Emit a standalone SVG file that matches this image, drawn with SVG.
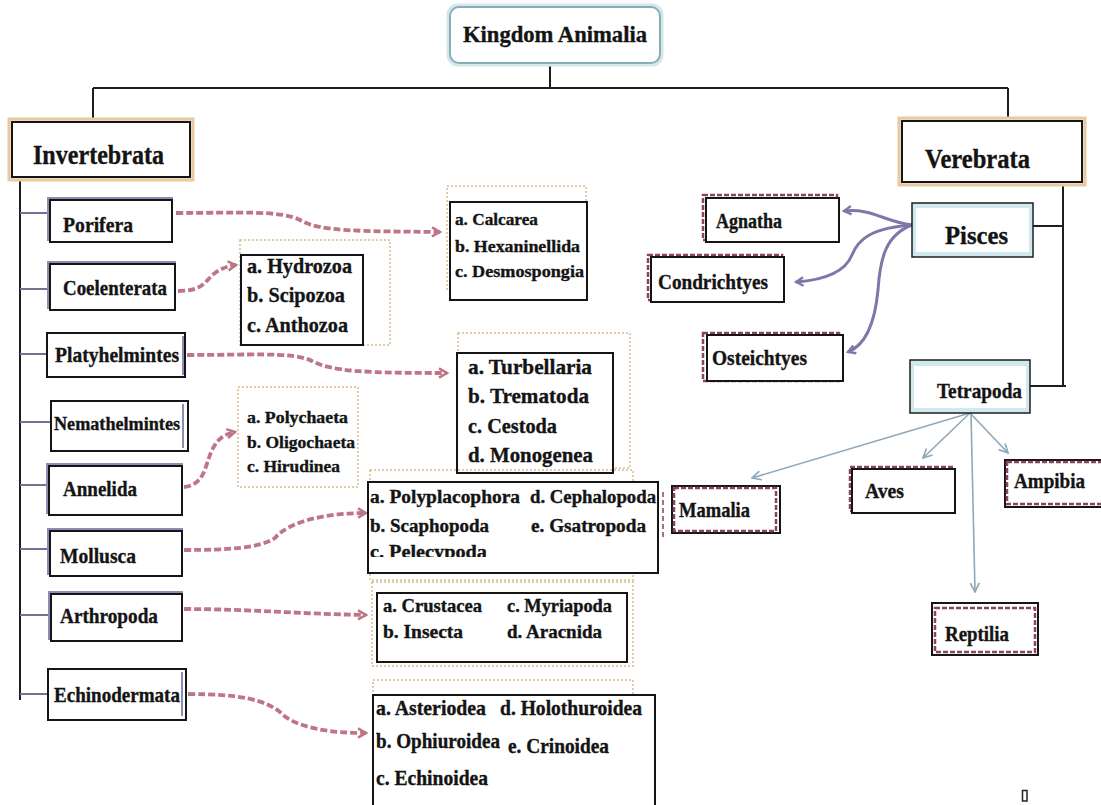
<svg xmlns="http://www.w3.org/2000/svg" width="1101" height="805" viewBox="0 0 1101 805">
<defs>
<style>
text{font-family:"Liberation Serif","DejaVu Serif",serif;font-weight:bold;fill:#141414;stroke:#141414;stroke-width:0.35}
.tree{stroke:#1e1e1e;stroke-width:2;fill:none}
.branch{stroke:#6f7590;stroke-width:2;fill:none}
.box{fill:#fff;stroke:#151515;stroke-width:2}
.shade{fill:none;stroke:#8e8cb0;stroke-width:2}
.glow{fill:#f6e6d2;stroke:#e8c9a2;stroke-width:3}
.dot{fill:none;stroke:#d9bb8c;stroke-width:1.5;stroke-dasharray:2 2}
.red{fill:none;stroke:#8a4656;stroke-width:2.5;stroke-dasharray:5 2}
.pink{fill:none;stroke:#b8687b;stroke-width:3.8;stroke-dasharray:7 3;opacity:.9}
.purple{fill:none;stroke:#7e78a8;stroke-width:3}
.blue{fill:none;stroke:#8ea8b9;stroke-width:1.6}
.teal{fill:#cfe9ef;stroke:#1e1e1e;stroke-width:1.5}
</style>
<marker id="mPink" viewBox="0 0 10 10" refX="8" refY="5" markerWidth="3" markerHeight="3" orient="auto" markerUnits="strokeWidth">
<path d="M1,1 L8,5 L1,9" fill="none" stroke="#b8687b" stroke-width="2.2"/>
</marker>
<marker id="mPurple" viewBox="0 0 10 10" refX="8" refY="5" markerWidth="3.5" markerHeight="3.5" orient="auto" markerUnits="strokeWidth">
<path d="M1,1 L8,5 L1,9" fill="none" stroke="#7e78a8" stroke-width="2.2"/>
</marker>
<marker id="mBlue" viewBox="0 0 10 10" refX="9" refY="5" markerWidth="7" markerHeight="7" orient="auto" markerUnits="strokeWidth">
<path d="M1,1 L9,5 L1,9" fill="none" stroke="#8ea8b9" stroke-width="1.5"/>
</marker>
<clipPath id="clipPel"><rect x="365" y="530" width="200" height="27"/></clipPath>
</defs>
<rect width="1101" height="805" fill="#fff"/>

<g id="connectors">
<path class="tree" d="M550,63 L550,88 M93,88 L1008,88 M93,88 L93,122 M1008,88 L1008,121"/>
<path class="tree" d="M20,177 L20,700"/>
<path class="branch" d="M20,213 L50,213 M20,289 L50,289 M20,354 L47,354 M20,422 L51,422 M20,485 L49,485 M20,549 L50,549 M20,615 L50,615 M20,694 L48,694"/>
<path class="tree" d="M1063,182 L1063,387 M1033,226 L1063,226 M1030,386 L1066,386"/>
<path class="pink" marker-end="url(#mPink)" d="M176,213 C240,213 280,210 300,220 C320,232 360,231 440,232"/>
<path class="pink" marker-end="url(#mPink)" d="M178,291 C205,291 205,280 215,273 C222,268 228,266 236,265"/>
<path class="pink" marker-end="url(#mPink)" d="M187,355 C250,355 290,352 310,360 C330,372 370,373 447,373"/>
<path class="pink" marker-end="url(#mPink)" d="M184,487 C205,485 205,465 212,450 C218,438 225,434 235,432"/>
<path class="pink" marker-end="url(#mPink)" d="M184,550 C230,550 260,548 275,538 C290,520 330,513 366,513"/>
<path class="pink" marker-end="url(#mPink)" d="M184,609 C250,609 300,614 366,615"/>
<path class="pink" marker-end="url(#mPink)" d="M188,694 C240,694 265,700 280,712 C295,728 330,733 366,733"/>
<path class="purple" marker-end="url(#mPurple)" d="M912,225 C885,222 872,208 844,211"/>
<path class="purple" marker-end="url(#mPurple)" d="M912,225 C870,228 858,240 852,255 C845,272 825,280 796,282"/>
<path class="purple" marker-end="url(#mPurple)" d="M912,225 C885,235 880,260 878,290 C875,322 866,345 848,352"/>
<path class="blue" marker-end="url(#mBlue)" d="M970,413 L752,478"/>
<path class="blue" marker-end="url(#mBlue)" d="M970,413 L923,458"/>
<path class="blue" marker-end="url(#mBlue)" d="M970,413 L1008,453"/>
<path class="blue" marker-end="url(#mBlue)" d="M971,413 L975,592"/>
</g>

<g id="kingdom">
<rect x="448" y="5" width="214" height="60" rx="10" fill="#eef6f8" stroke="#d4e8ec" stroke-width="3"/>
<rect x="450" y="7" width="210" height="56" rx="9" fill="#fff" stroke="#86aeb6" stroke-width="2"/>
<text x="463" y="42" font-size="23" textLength="184" lengthAdjust="spacingAndGlyphs">Kingdom Animalia</text>
</g>

<g id="invertebrata">
<rect class="glow" x="9" y="119" width="184" height="61"/>
<rect class="box" x="12" y="122" width="178" height="55"/>
<text x="33" y="164" font-size="27" textLength="131" lengthAdjust="spacingAndGlyphs">Invertebrata</text>
</g>

<g id="verebrata">
<rect class="glow" x="899" y="118" width="186" height="67"/>
<rect class="box" x="902" y="121" width="180" height="61"/>
<text x="925" y="168" font-size="27" textLength="105" lengthAdjust="spacingAndGlyphs">Verebrata</text>
</g>

<g id="porifera">
<rect class="shade" x="48" y="198" width="124" height="42"/>
<rect class="box" x="50" y="200" width="122" height="42"/>
<text x="63" y="232" font-size="22" textLength="70" lengthAdjust="spacingAndGlyphs">Porifera</text>
</g>
<g id="coelenterata">
<rect class="shade" x="48" y="262" width="127" height="46"/>
<rect class="box" x="50" y="264" width="125" height="46"/>
<text x="63" y="295" font-size="21" textLength="104" lengthAdjust="spacingAndGlyphs">Coelenterata</text>
</g>
<g id="platyhelmintes">
<rect class="shade" x="47" y="333" width="136" height="44"/>
<rect class="box" x="47" y="333" width="138" height="44"/>
<line x1="183" y1="336" x2="183" y2="375" stroke="#8e8cb0" stroke-width="2"/>
<text x="55" y="362" font-size="21" textLength="124" lengthAdjust="spacingAndGlyphs">Platyhelmintes</text>
</g>
<g id="nemathelmintes">
<rect class="shade" x="51" y="401" width="133" height="44"/>
<rect class="box" x="51" y="401" width="137" height="50"/>
<line x1="183" y1="404" x2="183" y2="448" stroke="#8e8cb0" stroke-width="2"/>
<text x="54" y="430" font-size="19" textLength="126" lengthAdjust="spacingAndGlyphs">Nemathelmintes</text>
</g>
<g id="annelida">
<rect class="shade" x="47" y="464" width="135" height="49"/>
<rect class="box" x="49" y="466" width="133" height="49"/>
<text x="63" y="496" font-size="22" textLength="74" lengthAdjust="spacingAndGlyphs">Annelida</text>
</g>
<g id="mollusca">
<rect class="shade" x="48" y="529" width="134" height="45"/>
<rect class="box" x="50" y="531" width="132" height="45"/>
<text x="60" y="563" font-size="22" textLength="76" lengthAdjust="spacingAndGlyphs">Mollusca</text>
</g>
<g id="arthropoda">
<rect class="shade" x="49" y="592" width="133" height="47"/>
<rect class="box" x="51" y="594" width="131" height="47"/>
<text x="60" y="623" font-size="22" textLength="98" lengthAdjust="spacingAndGlyphs">Arthropoda</text>
</g>
<g id="echinodermata">
<rect class="shade" x="48" y="669" width="134" height="44"/>
<rect class="box" x="48" y="669" width="138" height="51"/>
<line x1="182" y1="672" x2="182" y2="716" stroke="#8e8cb0" stroke-width="2"/>
<text x="54" y="702" font-size="21" textLength="126" lengthAdjust="spacingAndGlyphs">Echinodermata</text>
</g>

<g id="porifera-classes">
<rect class="dot" x="447" y="186" width="139" height="103"/>
<rect class="box" x="450" y="202" width="137" height="98" fill="none"/>
<text x="455" y="225" font-size="17.5" textLength="83" lengthAdjust="spacingAndGlyphs">a. Calcarea</text>
<text x="455" y="252" font-size="17.5" textLength="125" lengthAdjust="spacingAndGlyphs">b. Hexaninellida</text>
<text x="455" y="277" font-size="17.5" textLength="129" lengthAdjust="spacingAndGlyphs">c. Desmospongia</text>
</g>
<g id="coelenterata-classes">
<rect class="dot" x="240" y="240" width="150" height="105"/>
<rect class="box" x="241" y="255" width="122" height="90" fill="none"/>
<text x="247" y="273" font-size="22" textLength="105" lengthAdjust="spacingAndGlyphs">a. Hydrozoa</text>
<text x="247" y="302" font-size="22" textLength="98" lengthAdjust="spacingAndGlyphs">b. Scipozoa</text>
<text x="247" y="332" font-size="22" textLength="101" lengthAdjust="spacingAndGlyphs">c. Anthozoa</text>
</g>
<g id="platyhelmintes-classes">
<rect class="dot" x="458" y="333" width="172" height="135"/>
<rect class="box" x="457" y="353" width="156" height="120" fill="none"/>
<text x="468" y="374" font-size="22" textLength="124" lengthAdjust="spacingAndGlyphs">a. Turbellaria</text>
<text x="468" y="403" font-size="22" textLength="121" lengthAdjust="spacingAndGlyphs">b. Trematoda</text>
<text x="468" y="433" font-size="22" textLength="89" lengthAdjust="spacingAndGlyphs">c. Cestoda</text>
<text x="468" y="462" font-size="22" textLength="125" lengthAdjust="spacingAndGlyphs">d. Monogenea</text>
</g>
<g id="annelida-classes">
<rect class="dot" x="238" y="387" width="120" height="100"/>
<text x="247" y="423" font-size="17.5" textLength="101" lengthAdjust="spacingAndGlyphs">a. Polychaeta</text>
<text x="247" y="448" font-size="17.5" textLength="108" lengthAdjust="spacingAndGlyphs">b. Oligochaeta</text>
<text x="247" y="472" font-size="17.5" textLength="93" lengthAdjust="spacingAndGlyphs">c. Hirudinea</text>
</g>
<g id="mollusca-classes">
<rect class="dot" x="370" y="470" width="263" height="110"/>
<rect class="box" x="368" y="482" width="290" height="91" fill="none"/>
<text x="370" y="503" font-size="18.5" textLength="150" lengthAdjust="spacingAndGlyphs">a. Polyplacophora</text>
<text x="530" y="503" font-size="18.5" textLength="126" lengthAdjust="spacingAndGlyphs">d. Cephalopoda</text>
<text x="370" y="532" font-size="18.5" textLength="119" lengthAdjust="spacingAndGlyphs">b. Scaphopoda</text>
<text x="531" y="532" font-size="18.5" textLength="115" lengthAdjust="spacingAndGlyphs">e. Gsatropoda</text>
<text x="370" y="558" font-size="18.5" textLength="117" lengthAdjust="spacingAndGlyphs" clip-path="url(#clipPel)">c.  Pelecypoda</text>
</g>
<g id="arthropoda-classes">
<rect class="dot" x="372" y="582" width="261" height="84"/>
<rect class="box" x="377" y="593" width="250" height="69" fill="none"/>
<text x="383" y="612" font-size="19" textLength="99" lengthAdjust="spacingAndGlyphs">a. Crustacea</text>
<text x="507" y="612" font-size="19" textLength="105" lengthAdjust="spacingAndGlyphs">c. Myriapoda</text>
<text x="383" y="638" font-size="19" textLength="80" lengthAdjust="spacingAndGlyphs">b. Insecta</text>
<text x="507" y="638" font-size="19" textLength="95" lengthAdjust="spacingAndGlyphs">d. Aracnida</text>
</g>
<g id="echinodermata-classes">
<rect class="dot" x="373" y="680" width="260" height="96"/>
<rect class="box" x="373" y="695" width="282" height="120" fill="none"/>
<text x="376" y="715" font-size="20" textLength="110" lengthAdjust="spacingAndGlyphs">a. Asteriodea</text>
<text x="500" y="715" font-size="20" textLength="142" lengthAdjust="spacingAndGlyphs">d. Holothuroidea</text>
<text x="376" y="748" font-size="20" textLength="124" lengthAdjust="spacingAndGlyphs">b. Ophiuroidea</text>
<text x="508" y="753" font-size="20" textLength="101" lengthAdjust="spacingAndGlyphs">e. Crinoidea</text>
<text x="376" y="785" font-size="20" textLength="112" lengthAdjust="spacingAndGlyphs">c. Echinoidea</text>
</g>

<g id="pisces">
<rect class="teal" x="912" y="203" width="121" height="54"/>
<rect x="916" y="208" width="113" height="44" fill="#fff"/>
<text x="945" y="244" font-size="26" textLength="63" lengthAdjust="spacingAndGlyphs">Pisces</text>
</g>
<g id="tetrapoda">
<rect class="teal" x="910" y="360" width="120" height="53"/>
<rect x="914" y="366" width="112" height="42" fill="#fff"/>
<text x="937" y="398" font-size="21" textLength="85" lengthAdjust="spacingAndGlyphs">Tetrapoda</text>
</g>
<g id="agnatha">
<rect class="red" x="703" y="195" width="134" height="45"/>
<rect class="box" x="706" y="198" width="133" height="44" fill="none"/>
<text x="716" y="228" font-size="20" textLength="66" lengthAdjust="spacingAndGlyphs">Agnatha</text>
</g>
<g id="condrichtyes">
<rect class="red" x="648" y="255" width="134" height="45"/>
<rect class="box" x="651" y="257" width="133" height="45" fill="none"/>
<text x="658" y="289" font-size="20" textLength="110" lengthAdjust="spacingAndGlyphs">Condrichtyes</text>
</g>
<g id="osteichtyes">
<rect class="red" x="703" y="333" width="136" height="48"/>
<rect class="box" x="707" y="335" width="136" height="46" fill="none"/>
<text x="712" y="365" font-size="20" textLength="95" lengthAdjust="spacingAndGlyphs">Osteichtyes</text>
</g>
<g id="mamalia">
<rect class="box" x="672" y="486" width="108" height="47" fill="none"/>
<rect class="red" x="674" y="488" width="102" height="43"/>
<line x1="663" y1="492" x2="663" y2="540" stroke="#8a4656" stroke-width="1.5" stroke-dasharray="5 3"/>
<text x="679" y="517" font-size="21" textLength="71" lengthAdjust="spacingAndGlyphs">Mamalia</text>
</g>
<g id="aves">
<rect class="red" x="850" y="467" width="103" height="44"/>
<rect class="box" x="852" y="469" width="103" height="44" fill="none"/>
<text x="865" y="498" font-size="21" textLength="39" lengthAdjust="spacingAndGlyphs">Aves</text>
</g>
<g id="ampibia">
<rect class="box" x="1005" y="460" width="100" height="47" fill="none"/>
<rect class="red" x="1007" y="462" width="100" height="42"/>
<text x="1014" y="488" font-size="21" textLength="71" lengthAdjust="spacingAndGlyphs">Ampibia</text>
</g>
<g id="reptilia">
<rect class="box" x="932" y="603" width="106" height="52" fill="none"/>
<rect class="red" x="935" y="608" width="100" height="44"/>
<text x="945" y="641" font-size="21" textLength="64" lengthAdjust="spacingAndGlyphs">Reptilia</text>
</g>

<rect x="1022.5" y="790.5" width="4.5" height="10.5" fill="none" stroke="#222" stroke-width="1.5"/>
</svg>
